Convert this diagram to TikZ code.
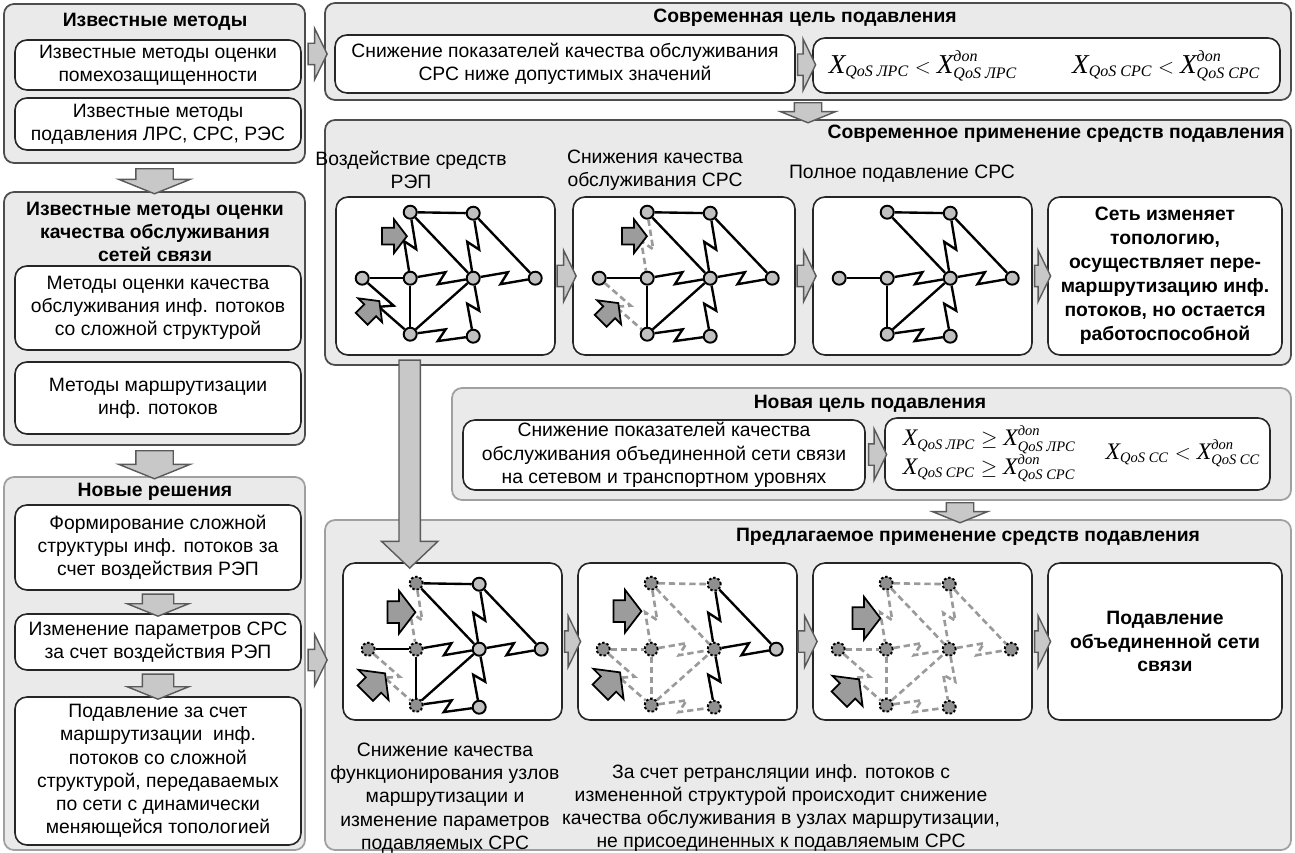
\documentclass[tikz,border=0pt]{standalone}
\usepackage{amsmath}
\usepackage{fontspec}
\setmainfont{Liberation Sans}
\newfontfamily\serifrm{Liberation Serif}
\usetikzlibrary{shapes.arrows,fit,calc}

\definecolor{panelfill}{HTML}{EAEAEA}
\definecolor{paneldark}{HTML}{4D4D4D}
\definecolor{panellite}{HTML}{A0A0A0}
\definecolor{arrfill}{HTML}{C8C8C8}
\definecolor{arrline}{HTML}{5A5A5A}
\definecolor{nodefill}{HTML}{C0C0C0}
\definecolor{hitfill}{HTML}{8F8F8F}
\definecolor{dashgray}{HTML}{9A9A9A}
\definecolor{ptrfill}{HTML}{9C9C9C}

% quality-of-service variables: a large X with smaller indices, in the surrounding italic serif
\newlength\bigX
\newcommand\BX{\text{\fontsize{\bigX}{\bigX}\selectfont X}}
\newcommand\Xq[1]{\BX_{\text{#1}}}
\newcommand\Xd[1]{\BX^{\text{доп}}_{\text{#1}}}

% positions of the eight routers of a network sketch, relative to its frame
\newcommand\netcoords[2]{%
  \begin{scope}[shift={#2}]
    \foreach \k/\u/\v in {1/75/16,2/138/17,3/27/82,4/75/82,5/138/82,6/200/82,7/75/138,8/138/140}
      \coordinate (#1c\k) at (\u,\v);
  \end{scope}}
% routers: list of number/style
\newcommand\netnodes[2]{%
  \foreach \k/\w in {#2} \node[\w] (#1\k) at (#1c\k) {};}
% links: straight ones, then radio (zigzag) ones, each as from/to/style
\newcommand\netlinks[3]{%
  \foreach \p/\q/\w in {#2} \draw[\w] (#1\p) -- (#1\q);
  \foreach \p/\q/\w in {#3} \draw[\w] (#1\p) to[zz] (#1\q);}

\begin{document}
\begin{tikzpicture}[x=0.2mm,y=-0.2mm,
  every node/.style={font=\fontsize{11}{13.2}\selectfont},
  ttl/.style={font=\bfseries\fontsize{11}{13.2}\selectfont, align=center, inner sep=0pt},
  txt/.style={align=center, inner sep=0pt},
  btxt/.style={txt, font=\bfseries\fontsize{11}{13.6}\selectfont},
  panel/.style={draw=paneldark, fill=panelfill, line width=1pt, rounded corners=2mm, inner sep=0pt},
  panellt/.style={panel, draw=panellite},
  card/.style={draw=black!85, fill=white, line width=0.9pt, rounded corners=2.4mm, inner sep=0pt},
  harrow/.style={single arrow, draw=arrline, fill=arrfill, line width=0.8pt,
     inner xsep=0pt, inner ysep=2mm,
     single arrow head indent=0pt, single arrow tip angle=128,
     minimum width=10mm, single arrow head extend=3mm, minimum height=3.8mm},
  varrow/.style={harrow, rotate=-90, single arrow tip angle=136, inner ysep=3.6mm,
     minimum width=14mm, single arrow head extend=3.4mm, minimum height=5mm},
  ptr/.style={single arrow, draw=black, fill=ptrfill, line width=1pt,
     inner xsep=0pt, inner ysep=1.5mm,
     single arrow head indent=0pt, single arrow tip angle=105,
     minimum width=6.4mm, single arrow head extend=1.7mm, minimum height=5mm},
  bigptr/.style={ptr, inner ysep=2mm, minimum width=8.2mm, single arrow head extend=2.1mm, minimum height=5.6mm},
  nd/.style={circle, draw=black, fill=nodefill, line width=1.1pt, minimum size=2.6mm, inner sep=0pt},
  dnd/.style={nd, fill=hitfill, dash pattern=on 1.4pt off 1.1pt},
  ln/.style={draw=black, line width=1.35pt},
  dl/.style={draw=dashgray, line width=1.5pt, dash pattern=on 3.6pt off 2.2pt},
  zz/.style={to path={-- ($(\tikztostart)!0.56!(\tikztotarget)!1.2mm!90:(\tikztotarget)$)
                      -- ($(\tikztostart)!0.44!(\tikztotarget)!1.2mm!-90:(\tikztotarget)$)
                      -- (\tikztotarget)}}
]
\fill[white] (0,0) rectangle (1295,853);
\useasboundingbox (0,0) rectangle (1295,853);

% ---------------- left column ----------------
\node[panel, fit={(4,4)(305,163)}] (A) {};
\node[ttl] at (155,22) {Известные методы};
\node[card, fit={(15,40)(301,90)}] (a1) {};
\node[txt] at (a1) {Известные методы оценки\\помехозащищенности};
\node[card, fit={(15,98)(301,150)}] (a2) {};
\node[txt] at (a2) {Известные методы\\подавления ЛРС, СРС, РЭС};

\node[panel, fit={(4,192)(305,445)}] (B) {};
\node[ttl] at (155,232) {Известные методы оценки\\качества обслуживания\\сетей связи};
\node[card, fit={(15,266)(301,350)}] (b1) {};
\node[txt] at (b1) {Методы оценки качества\\обслуживания инф. потоков\\со сложной структурой};
\node[card, fit={(15,362)(301,434)}] (b2) {};
\node[txt] at (b2) {Методы маршрутизации\\инф. потоков};

\node[panellt, fit={(4,477)(305,850)}] (C) {};
\node[ttl] at (155,492) {Новые решения};
\node[card, fit={(15,505)(301,590)}] (c1) {};
\node[txt] at (c1) {Формирование сложной\\структуры инф. потоков за\\счет воздействия РЭП};
\node[card, fit={(15,614)(301,670)}] (c2) {};
\node[txt] at (c2) {Изменение параметров СРС\\за счет воздействия РЭП};
\node[card, fit={(15,697)(301,845)}] (c3) {};
\node[txt] at (c3) {Подавление за счет\\маршрутизации\ \ инф.\\потоков со сложной\\структурой, передаваемых\\по сети с динамически\\меняющейся топологией};

% ---------------- current goal ----------------
\node[panel, fit={(325,3)(1291,100)}] (D) {};
\node[ttl] at (805,18) {Современная цель подавления};
\node[card, fit={(335,35)(795,93)}] (d1) {};
\node[txt] at (d1) {Снижение показателей качества обслуживания\\СРС ниже допустимых значений};
\node[card, fit={(813,38)(1280,93)}] (d2) {};
\node[inner sep=0pt, font=\serifrm\itshape\fontsize{13}{16}\selectfont\setlength\bigX{15.5pt}] at ($(d2)+(-2,0)$)
  {$\Xq{QoS ЛРС} < \Xd{QoS ЛРС}\hspace{11mm}\Xq{QoS СРС} < \Xd{QoS СРС}$};

% ---------------- current use of jamming ----------------
\node[panel, fit={(325,120)(1291,365)}] (E) {};
\node[ttl, anchor=east] at (1285,134) {Современное применение средств подавления};
\node[txt] at (411,170) {Воздействие средств\\РЭП};
\node[txt] at (655,170) {Снижения качества\\обслуживания СРС};
\node[txt] at (902,174) {Полное подавление СРС};
\node[card, fit={(336,197)(555,355)}] (e1) {};
\node[card, fit={(573,197)(795,355)}] (e2) {};
\node[card, fit={(813,197)(1032,355)}] (e3) {};
\node[card, fit={(1048,197)(1282,355)}] (e4) {};
\node[btxt] at (e4) {Сеть изменяет\\топологию,\\осуществляет пере-\\маршрутизацию инф.\\потоков, но остается\\работоспособной};

% ---------------- new goal ----------------
\node[panellt, fit={(452,388)(1291,500)}] (F) {};
\node[ttl] at (870,404) {Новая цель подавления};
\node[card, fit={(463,420)(865,490)}] (f1) {};
\node[txt] at (f1) {Снижение показателей качества\\обслуживания объединенной сети связи\\на сетевом и транспортном уровнях};
\node[card, fit={(885,418)(1270,490)}] (f2) {};
\node[inner sep=0pt, font=\serifrm\itshape\fontsize{11.8}{15.4}\selectfont\setlength\bigX{13.5pt}] at ($(f2)+(4,0)$)
  {$\begin{array}{@{}l@{}}\Xq{QoS ЛРС} \geq \Xd{QoS ЛРС}\\ \Xq{QoS СРС} \geq \Xd{QoS СРС}\end{array}\hspace{6mm}\Xq{QoS СС} < \Xd{QoS СС}$};

% ---------------- proposed use of jamming ----------------
\node[panellt, fit={(325,520)(1291,850)}] (G) {};
\node[ttl] at (968,537) {Предлагаемое применение средств подавления};
\node[card, fit={(343,563)(562,720)}] (g1) {};
\node[card, fit={(578,563)(797,720)}] (g2) {};
\node[card, fit={(813,563)(1032,720)}] (g3) {};
\node[card, fit={(1048,563)(1282,720)}] (g4) {};
\node[btxt] at (g4) {Подавление\\объединенной сети\\связи};
\node[txt] at (445,798) {Снижение качества\\функционирования узлов\\маршрутизации и\\изменение параметров\\подавляемых СРС};
\node[txt] at (781,808) {За счет ретрансляции инф. потоков с\\измененной структурой происходит снижение\\качества обслуживания в узлах маршрутизации,\\не присоединенных к подавляемым СРС};

% ---------------- block arrows ----------------
\node[varrow] at ($(A.south)!0.5!(B.north)$) {};
\node[varrow, minimum height=5.6mm] at ($(B.south)!0.5!(C.north)$) {};
\node[varrow, minimum width=12mm, inner ysep=3mm, single arrow head extend=3mm, minimum height=4.4mm] at ($(c1.south)!0.5!(c2.north)$) {};
\node[varrow, minimum width=12mm, inner ysep=3mm, single arrow head extend=3mm, minimum height=5mm] at ($(c2.south)!0.5!(c3.north)$) {};
\node[harrow] at (315,54) {};
\node[harrow] at (315,660) {};
\node[harrow, minimum height=3.6mm] at ($(d1.east)!0.5!(d2.west)$) {};
\node[varrow, minimum width=11mm, inner ysep=2.6mm, single arrow head extend=2.8mm, minimum height=4mm] at ($(D.south)!0.5!(E.north)$) {};
\node[harrow] at ($(e1.east)!0.5!(e2.west)$) {};
\node[harrow] at ($(e2.east)!0.5!(e3.west)$) {};
\node[harrow, minimum height=3.2mm] at ($(e3.east)!0.5!(e4.west)$) {};
\node[harrow, minimum height=3.6mm] at ($(f1.east)!0.5!(f2.west)$) {};
\node[varrow, minimum width=11mm, inner ysep=2.6mm, single arrow head extend=2.8mm, minimum height=4mm] at (960,510) {};
\node[harrow, minimum height=3.2mm] at ($(g1.east)!0.5!(g2.west)$) {};
\node[harrow] at ($(g2.east)!0.5!(g3.west)$) {};
\node[harrow, minimum height=3.2mm] at ($(g3.east)!0.5!(g4.west)$) {};
\node[harrow, rotate=-90, inner ysep=2mm, minimum width=11mm, single arrow head extend=3.5mm,
      single arrow tip angle=93, minimum height=41.6mm] at ($(e1.south west)!0.5!(g1.north west)+(71,0)$) {};

% ---------------- network sketches: current use ----------------
\netcoords{e1}{(e1.north west)}
\netnodes{e1}{1/nd,2/nd,3/nd,4/nd,5/nd,6/nd,7/nd,8/nd}
\netlinks{e1}{1/2/ln,1/5/ln,2/6/ln,3/4/ln,4/7/ln,7/5/ln}{2/5/ln,1/4/ln,4/5/ln,5/6/ln,3/7/ln,5/8/ln,7/8/ln}
\node[ptr] at ($(e1.north west)+(56,40)$) {};
\node[ptr, rotate=45] at ($(e1.north west)+(33,116)$) {};

\netcoords{e2}{(e2.north west)}
\netnodes{e2}{1/nd,2/nd,3/nd,4/nd,5/nd,6/nd,7/nd,8/nd}
\netlinks{e2}{1/2/ln,1/5/ln,2/6/ln,3/4/ln,4/7/ln,7/5/ln}{2/5/ln,1/4/dl,4/5/ln,5/6/ln,3/7/dl,5/8/ln,7/8/ln}
\node[ptr] at ($(e2.north west)+(59,40)$) {};
\node[ptr, rotate=45] at ($(e2.north west)+(35,118)$) {};

\netcoords{e3}{(e3.north west)}
\netnodes{e3}{1/nd,2/nd,3/nd,4/nd,5/nd,6/nd,7/nd,8/nd}
\netlinks{e3}{1/2/ln,1/5/ln,2/6/ln,3/4/ln,4/7/ln,7/5/ln}{2/5/ln,4/5/ln,5/6/ln,5/8/ln,7/8/ln}

% ---------------- network sketches: proposed use ----------------
\netcoords{g1}{($(g1.north west)+(-1,5)$)}
\netnodes{g1}{1/dnd,2/nd,3/dnd,4/dnd,5/nd,6/nd,7/dnd,8/nd}
\netlinks{g1}{1/2/ln,1/5/ln,2/6/ln,3/4/ln,4/7/ln,7/5/ln}{2/5/ln,1/4/dl,4/5/ln,5/6/ln,3/7/dl,5/8/ln,7/8/ln}
\node[bigptr] at ($(g1.north west)+(55,50)$) {};
\node[bigptr, rotate=45] at ($(g1.north west)+(30,124)$) {};

\netcoords{g2}{($(g2.north west)+(-1,5)$)}
\netnodes{g2}{1/dnd,2/dnd,3/dnd,4/dnd,5/dnd,6/nd,7/dnd,8/dnd}
\netlinks{g2}{1/2/dl,1/5/dl,2/6/ln,3/4/dl,4/7/dl,7/5/dl}{2/5/ln,1/4/dl,4/5/dl,5/6/ln,3/7/dl,5/8/ln,7/8/dl}
\node[bigptr] at ($(g2.north west)+(46,49)$) {};
\node[bigptr, rotate=45] at ($(g2.north west)+(30,123)$) {};

\netcoords{g3}{($(g3.north west)+(-1,5)$)}
\netnodes{g3}{1/dnd,2/dnd,3/dnd,4/dnd,5/dnd,6/dnd,7/dnd,8/dnd}
\netlinks{g3}{1/2/dl,1/5/dl,2/6/dl,3/4/dl,4/7/dl,7/5/dl}{2/5/dl,1/4/dl,4/5/dl,5/6/dl,3/7/dl,5/8/dl,7/8/dl}
\node[bigptr] at ($(g3.north west)+(50,56)$) {};
\node[bigptr, rotate=45] at ($(g3.north west)+(34,130)$) {};
\end{tikzpicture}
\end{document}
